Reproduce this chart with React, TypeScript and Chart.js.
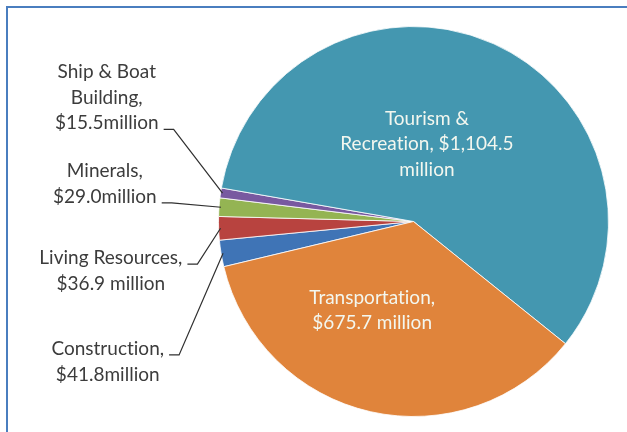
import React, { useEffect, useRef } from "react";
import { Chart, registerables } from "chart.js";

Chart.register(...registerables);

// ---- Data ----
const categories = [
  "Construction",
  "Living Resources",
  "Minerals",
  "Ship & Boat Building",
  "Tourism & Recreation",
  "Transportation",
];
const values = [41.8, 36.9, 29.0, 15.5, 1104.5, 675.7];
const labelTexts = [
  ["Construction,", "$41.8million"],
  ["Living Resources,", "$36.9 million"],
  ["Minerals,", "$29.0million"],
  ["Ship & Boat", "Building,", "$15.5million"],
  ["Tourism &", "Recreation, $1,104.5", "million"],
  ["Transportation,", "$675.7 million"],
];

// ---- Styles ----
const sliceColors = ["#3F74B6", "#B8433F", "#94B453", "#7859A0", "#4497B0", "#E0843B"];
const FONT_FAMILY = "Lato, 'Open Sans', sans-serif";
const FONT_SIZE = 19;
const LINE_H = 25.5;
// label placement in pie-radius units relative to the pie centre
// inside: block centre; outside: block centre + anchor line for the leader
const labelPlacement = [
  { inside: false, dx: -1.568, dy: 0.719, anchor: 0 },
  { inside: false, dx: -1.552, dy: 0.253, anchor: 0 },
  { inside: false, dx: -1.583, dy: -0.192, anchor: 1 },
  { inside: false, dx: -1.573, dy: -0.634, anchor: 2 },
  { inside: true, dx: 0.069, dy: -0.397, anchor: 0 },
  { inside: true, dx: -0.212, dy: 0.455, anchor: 0 },
];

const framePlugin = {
  id: "frame",
  beforeDraw(chart: any) {
    const { ctx, width, height } = chart;
    ctx.save();
    ctx.fillStyle = "#ffffff";
    ctx.fillRect(0, 0, width, height);
    ctx.fillStyle = "#4A7EBF";
    ctx.fillRect(6, 6, width - 6, 2);
    ctx.fillRect(6, 6, 2, height - 6);
    ctx.restore();
  },
};

const labelPlugin = {
  id: "sliceLabels",
  afterDatasetsDraw(chart: any) {
    const { ctx } = chart;
    const meta = chart.getDatasetMeta(0);
    ctx.save();
    ctx.font = `${FONT_SIZE}px ${FONT_FAMILY}`;
    try {
      (ctx as any).letterSpacing = "0.01px";
    } catch (e) {}
    ctx.textAlign = "center";
    ctx.textBaseline = "middle";
    meta.data.forEach((arc: any, i: number) => {
      const { x: cx, y: cy, outerRadius: r, startAngle, endAngle } = arc.getProps(
        ["x", "y", "outerRadius", "startAngle", "endAngle"],
        true
      );
      const p = labelPlacement[i];
      const lines = labelTexts[i];
      const bx = cx + p.dx * r;
      const by = cy + p.dy * r;
      const top = by - ((lines.length - 1) * LINE_H) / 2;
      ctx.fillStyle = p.inside ? "#F3F7EF" : "#3C3C3C";
      lines.forEach((t, k) => ctx.fillText(t, bx, top + k * LINE_H));
      if (!p.inside) {
        const mid = (startAngle + endAngle) / 2;
        const ex = cx + Math.cos(mid) * r * 0.99;
        const ey = cy + Math.sin(mid) * r * 0.99;
        const w = ctx.measureText(lines[p.anchor]).width;
        const sx = bx + w / 2 + 5;
        const sy = top + p.anchor * LINE_H + 6;
        ctx.strokeStyle = "#303030";
        ctx.lineWidth = 1.2;
        ctx.beginPath();
        ctx.moveTo(sx, sy);
        ctx.lineTo(sx + 10, sy);
        ctx.lineTo(ex, ey);
        ctx.stroke();
      }
    });
    ctx.restore();
  },
};

export default function App() {
  const ref = useRef<HTMLCanvasElement>(null);
  useEffect(() => {
    if (!ref.current) return;
    const chart = new Chart(ref.current, {
      type: "pie",
      data: {
        labels: categories,
        datasets: [
          {
            data: values,
            backgroundColor: sliceColors,
            borderColor: "rgba(255,255,255,0.8)",
            borderWidth: 1,
          },
        ],
      },
      options: {
        responsive: false,
        animation: false,
        rotation: 256.6,
        layout: { padding: { left: 218, right: 18, top: 26, bottom: 15 } },
        plugins: {
          legend: { display: false },
          tooltip: { enabled: false },
        },
      },
      plugins: [framePlugin, labelPlugin],
    });
    return () => chart.destroy();
  }, []);
  return (
    <div style={{ position: "fixed", left: 0, top: 0, width: 627, height: 432 }}>
      <canvas ref={ref} width={627} height={432} style={{ width: 627, height: 432 }} />
    </div>
  );
}
